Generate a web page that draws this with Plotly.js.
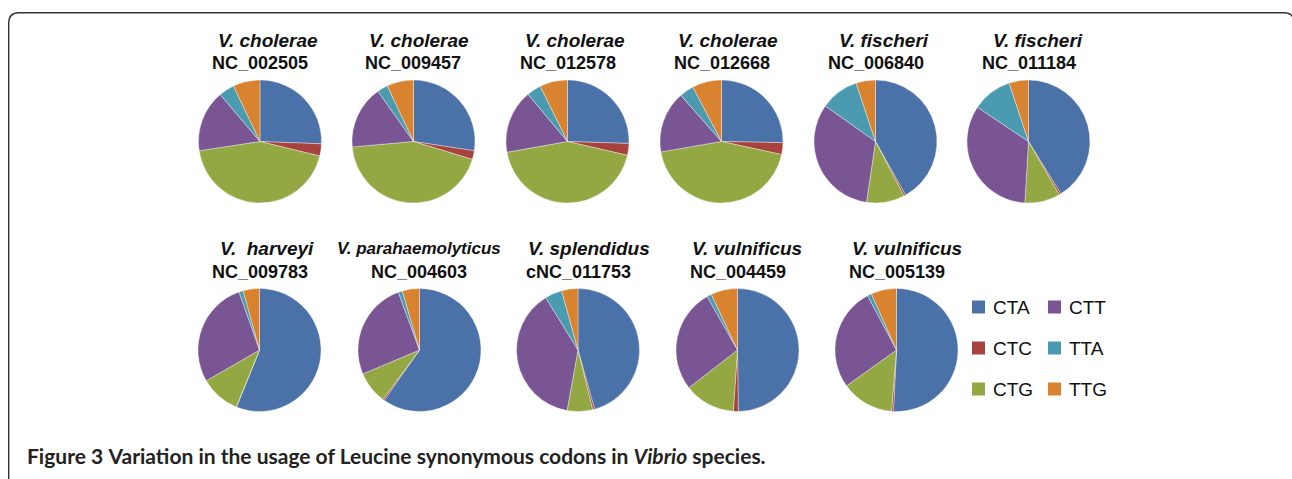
<!DOCTYPE html>
<html>
<head>
<meta charset="utf-8">
<script src="https://cdn.plot.ly/plotly-3.0.1.min.js"></script>
<style>
html,body{margin:0;padding:0;background:#fff;}
#chart{width:1292px;height:479px;}
</style>
</head>
<body>
<div id="chart"></div>
<script>
// ---- data (percent of Leucine codon usage) ----
var codons = ["CTA", "CTC", "CTG", "CTT", "TTA", "TTG"];
var colors = ["#4A71A8", "#A8423E", "#93A843", "#7A5594", "#4A9BB0", "#D9822F"];

var species = ["V. cholerae", "V. cholerae", "V. cholerae", "V. cholerae", "V. fischeri", "V. fischeri",
               "V.  harveyi", "V. parahaemolyticus", "V. splendidus", "V. vulnificus", "V. vulnificus"];
var accessions = ["NC_002505", "NC_009457", "NC_012578", "NC_012668", "NC_006840", "NC_011184",
                  "NC_009783", "NC_004603", "cNC_011753", "NC_004459", "NC_005139"];

var nc002505 = [25.6, 3.2, 43.8, 16.2, 4.1, 7.1];
var nc009457 = [27.4, 2.3, 43.9, 16.6, 2.8, 7.0];
var nc012578 = [25.5, 3.1, 43.6, 16.7, 3.8, 7.3];
var nc012668 = [25.3, 3.1, 43.9, 16.2, 3.8, 7.7];
var nc006840 = [41.9, 0.5, 10.0, 32.5, 10.1, 5.1];
var nc011184 = [41.2, 0.5, 9.3, 33.5, 10.5, 5.1];
var nc009783 = [56.2, 0.1, 10.5, 28.0, 1.1, 4.3];
var nc004603 = [59.8, 0.4, 8.5, 25.8, 1.1, 4.5];
var nc011753 = [45.7, 0.5, 6.7, 38.4, 4.5, 4.3];
var nc004459 = [49.8, 1.3, 13.4, 27.3, 1.2, 7.0];
var nc005139 = [50.8, 0.5, 13.8, 27.1, 1.1, 6.7];

var series = [nc002505, nc009457, nc012578, nc012668, nc006840, nc011184,
              nc009783, nc004603, nc011753, nc004459, nc005139];

// ---- layout geometry (pixels) ----
var W = 1292, H = 479;
function px(x){ return x / W; }
function py(y){ return 1 - y / H; }

var centersX = [260, 413.5, 567.5, 721.5, 875.5, 1028.5, 259.5, 419.5, 578, 737.5, 896.5];
var centersY = [141.5, 141.5, 141.5, 141.5, 141.5, 141.5, 350, 350, 350, 350, 350];
var R = 61.5;
var spX = [267.5, 419, 575, 728, 884, 1037.5, 266.7, 419, 589, 747, 906.7];
var ncX = [260, 413, 567.5, 721.7, 876, 1029, 260, 419, 578, 738, 897];

var traces = [];
var annotations = [];
for (var i = 0; i < series.length; i++) {
  var cx = centersX[i], cy = centersY[i];
  traces.push({
    type: "pie",
    labels: codons,
    values: series[i],
    sort: false,
    direction: "clockwise",
    rotation: 0,
    textinfo: "none",
    hoverinfo: "label+percent",
    marker: {colors: colors, line: {color: "rgba(255,255,255,0.6)", width: 0.6}},
    domain: {x: [px(cx - R), px(cx + R)], y: [py(cy + R), py(cy - R)]},
    showlegend: false
  });
  var row2 = cy > 200;
  var isPara = species[i].indexOf("parahaemolyticus") >= 0;
  annotations.push({
    xref: "paper", yref: "paper", showarrow: false,
    x: px(spX[i]), y: py(row2 ? 249 : 41), xanchor: "center", yanchor: "middle",
    text: "<b><i>" + species[i].replace(/  /g, "&nbsp; ") + "</i></b>",
    font: {family: "Liberation Sans, Arial, sans-serif", size: isPara ? 17 : 19, color: "#111"}
  });
  annotations.push({
    xref: "paper", yref: "paper", showarrow: false,
    x: px(ncX[i]), y: py(row2 ? 272 : 63), xanchor: "center", yanchor: "middle",
    text: "<b>" + accessions[i] + "</b>",
    font: {family: "Liberation Sans, Arial, sans-serif", size: 18, color: "#111"}
  });
}

// ---- legend (two columns) ----
var legOrder = [0, 3, 1, 4, 2, 5]; // CTA CTT / CTC TTA / CTG TTG
var shapes = [];
for (var k = 0; k < legOrder.length; k++) {
  var idx = legOrder[k];
  var col = k % 2, row = Math.floor(k / 2);
  var sx = col === 0 ? 972 : 1048;
  var sy = 307 + row * 41;
  shapes.push({
    type: "rect", xref: "paper", yref: "paper",
    x0: px(sx), x1: px(sx + 13), y0: py(sy + 6.5), y1: py(sy - 6.5),
    fillcolor: colors[idx], line: {width: 0}
  });
  annotations.push({
    xref: "paper", yref: "paper", showarrow: false,
    x: px(sx + 18.5), y: py(sy), xanchor: "left", yanchor: "middle",
    text: codons[idx],
    font: {family: "Liberation Sans, Arial, sans-serif", size: 19, color: "#111"}
  });
}

// ---- frame ----
shapes.push({
  type: "path", xref: "paper", yref: "paper",
  path: "M " + px(8.7) + "," + py(495) + " L " + px(8.7) + "," + py(23) +
        " Q " + px(8.7) + "," + py(12.7) + " " + px(19) + "," + py(12.7) +
        " L " + px(1284) + "," + py(12.7) +
        " Q " + px(1294) + "," + py(12.7) + " " + px(1294) + "," + py(23) +
        " L " + px(1294) + "," + py(495),
  line: {color: "#333", width: 1.4}
});

// ---- caption ----
annotations.push({
  xref: "paper", yref: "paper", showarrow: false,
  x: px(25), y: py(455), xanchor: "left", yanchor: "middle",
  text: "<b>Figure 3</b> <b>Variation in the usage of Leucine synonymous codons in <i>Vibrio</i> species.</b>",
  font: {family: "Lato, sans-serif", size: 21, color: "#222"}
});

var layout = {
  width: W, height: H,
  margin: {l: 0, r: 0, t: 0, b: 0},
  paper_bgcolor: "#fff",
  plot_bgcolor: "#fff",
  showlegend: false,
  annotations: annotations,
  shapes: shapes
};

Plotly.newPlot("chart", traces, layout, {staticPlot: true, displayModeBar: false});
</script>
</body>
</html>
